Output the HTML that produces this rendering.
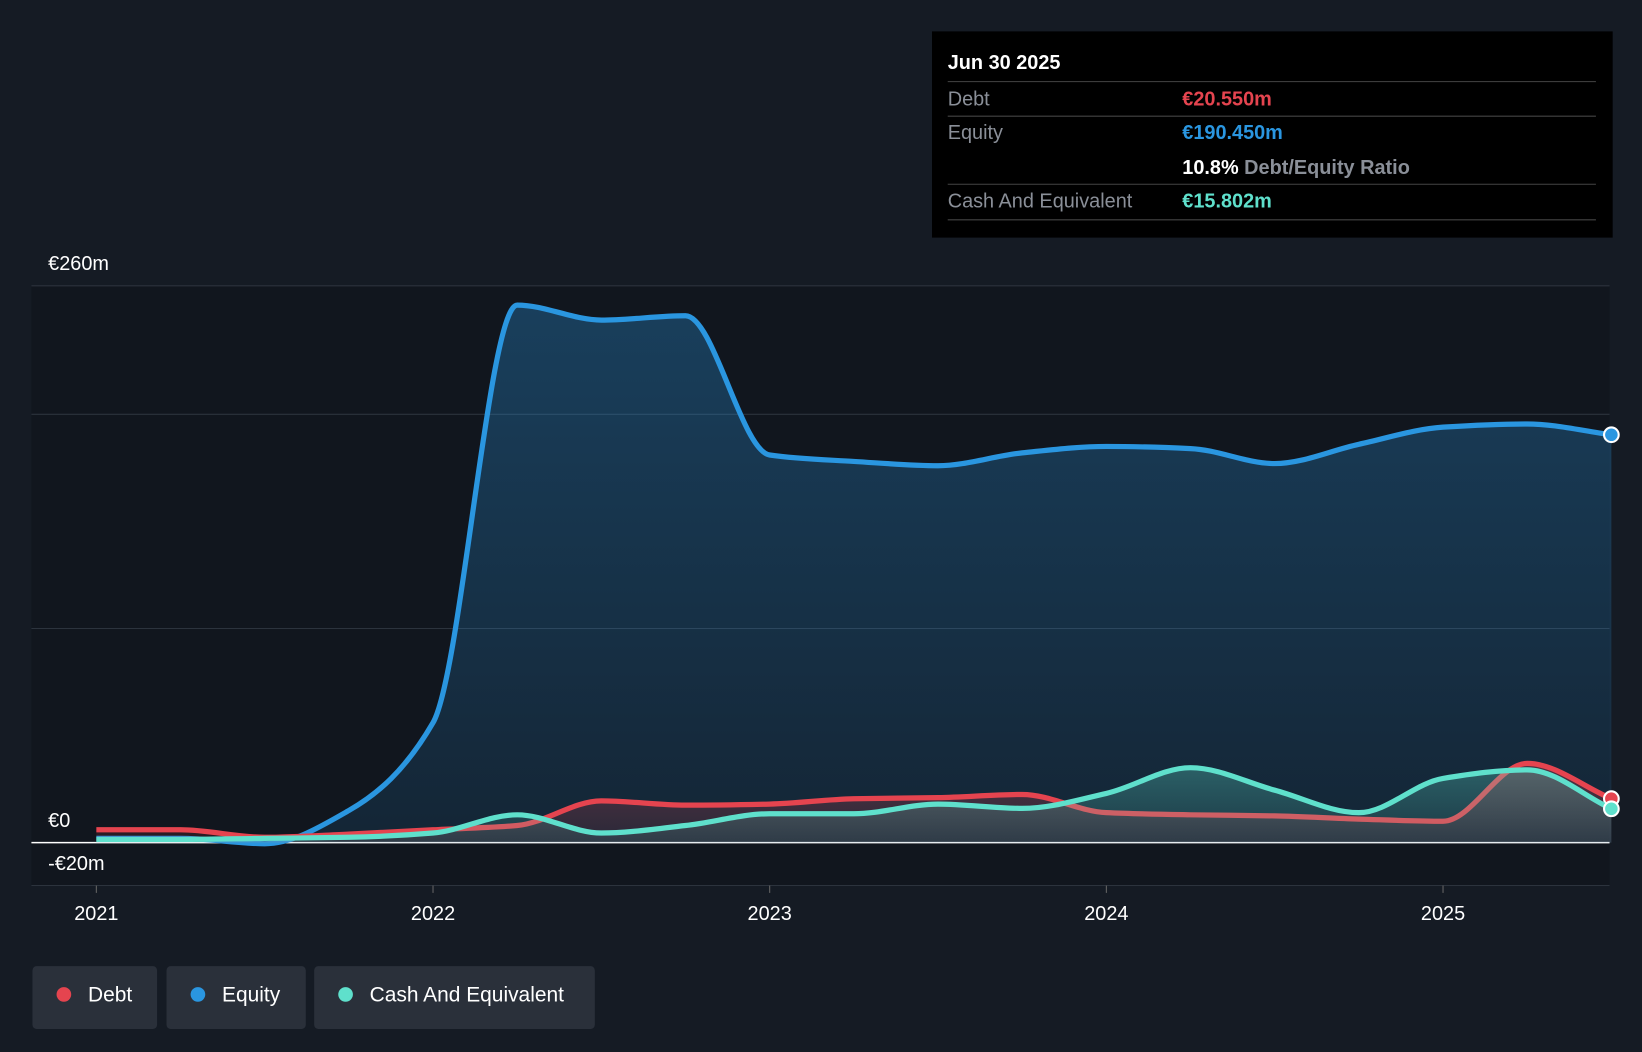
<!DOCTYPE html>
<html><head><meta charset="utf-8"><style>
html,body{margin:0;padding:0;background:#151b24;}
svg{display:block;font-family:"Liberation Sans",Arial,sans-serif;}
</style></head><body>
<svg id="chart" width="1642" height="1052" viewBox="0 0 1568 1005" preserveAspectRatio="none">
<rect x="0" y="0" width="1568" height="1005" fill="#151b24"/>
<rect x="30" y="273" width="1507" height="573" fill="#11161e"/>
<g id="grid"></g>
<g id="series"></g>
<g id="tooltip">
<rect x="890" y="30" width="650" height="197" fill="#000"/>
<text x="905" y="66" fill="#fff" font-size="19" font-weight="bold">Jun 30 2025</text>
<line x1="905" y1="78" x2="1524" y2="78" stroke="#444"/>
<text x="905" y="101" fill="#8a8f98" font-size="19">Debt</text>
<text x="1129" y="101" fill="#e5444f" font-size="19" font-weight="bold">€20.550m</text>
<line x1="905" y1="111" x2="1524" y2="111" stroke="#444"/>
<text x="905" y="133" fill="#8a8f98" font-size="19">Equity</text>
<text x="1129" y="133" fill="#2a96e0" font-size="19" font-weight="bold">€190.450m</text>
<text x="1129" y="166" fill="#fff" font-size="19" font-weight="bold">10.8% <tspan fill="#8a8f98">Debt/Equity Ratio</tspan></text>
<line x1="905" y1="176" x2="1524" y2="176" stroke="#444"/>
<text x="905" y="198" fill="#8a8f98" font-size="19">Cash And Equivalent</text>
<text x="1129" y="198" fill="#5fe0cc" font-size="19" font-weight="bold">€15.802m</text>
<line x1="905" y1="210" x2="1524" y2="210" stroke="#444"/>
</g>
<g>
<g><rect x="31" y="923" width="119" height="60" rx="4" fill="#2a303a"/><circle cx="61" cy="950" r="7" fill="#e5444f"/><text x="84" y="957" fill="#fff" font-size="20">Debt</text></g>
<g><rect x="159" y="923" width="133" height="60" rx="4" fill="#2a303a"/><circle cx="189" cy="950" r="7" fill="#2a96e0"/><text x="212" y="957" fill="#fff" font-size="20">Equity</text></g>
<g><rect x="300" y="923" width="268" height="60" rx="4" fill="#2a303a"/><circle cx="330" cy="950" r="7" fill="#5fe0cc"/><text x="353" y="957" fill="#fff" font-size="20">Cash And Equivalent</text></g>
</g>
</svg>
<script>
const quarters=[2021,2021.25,2021.5,2021.75,2022,2022.25,2022.5,2022.75,2023,2023.25,2023.5,2023.75,2024,2024.25,2024.5,2024.75,2025,2025.25,2025.5];
const equity=[2,2,-0.5,15,56,251,244,246,181,178,176,182,185,184,177,186,194,195.5,190.45];
const debt=[6,6,2.5,4,6,8,19.5,17.5,18,20.5,21,22.5,14,13,12.5,11,10,37,20.55];
const cash=[1.5,1.5,2,2.5,4.5,13,4.5,8,13.5,13.5,18,16,23,35,24.5,14,30,34,15.8];
const yTicks=[-20,0,100,200,260];
const yLabels=["-€20m","€0","","","€260m"];
const xYears=[2021,2022,2023,2024,2025];
const NS="http://www.w3.org/2000/svg";
const X=t=>92+(t-2021)*321.5;
const Y=v=>805-v*2.046;
function el(tag,attrs,parent){const e=document.createElementNS(NS,tag);for(const k in attrs)e.setAttribute(k,attrs[k]);parent.appendChild(e);return e;}
const grid=document.getElementById('grid');
for(let i=0;i<yTicks.length;i++){
  const v=yTicks[i];
  const l=el('line',{x1:30,x2:1537,y1:Y(v),y2:Y(v),stroke:v===0?'#fff':'#2c333d','stroke-width':v===0?1.5:1},grid);
  
  
  if(yLabels[i]){const t=el('text',{x:46,y:Y(v)-15,fill:'#fff','font-size':19},grid);t.textContent=yLabels[i];
  
  }
}
xYears.forEach(yr=>{
  const l=el('line',{x1:X(yr),x2:X(yr),y1:846,y2:853,stroke:'#666'},grid);
  
  
  const t=el('text',{x:X(yr),y:879,fill:'#fff','font-size':19,'text-anchor':'middle'},grid);t.textContent=yr;
  
  
});
function mono(xs,ys){
  const n=xs.length,d=[],m=[];
  for(let i=0;i<n-1;i++)d.push((ys[i+1]-ys[i])/(xs[i+1]-xs[i]));
  m[0]=d[0];m[n-1]=d[n-2];
  for(let i=1;i<n-1;i++){const a=d[i-1],b=d[i];m[i]=(a*b<=0)?0:2/(1/a+1/b);}
  let p=`M${xs[0]},${ys[0]}`;
  for(let i=0;i<n-1;i++){const h=(xs[i+1]-xs[i])/3;
    p+=` C${xs[i]+h},${ys[i]+m[i]*h} ${xs[i+1]-h},${ys[i+1]-m[i+1]*h} ${xs[i+1]},${ys[i+1]}`;}
  return p;
}
const ser=document.getElementById('series');
const defs=el('defs',{},ser);
function grad(id,c,o1,o2){const g=el('linearGradient',{id,x1:0,y1:0,x2:0,y2:1},defs);
  el('stop',{offset:0,'stop-color':c,'stop-opacity':o1},g);el('stop',{offset:1,'stop-color':c,'stop-opacity':o2},g);}
grad('ge','#2a96e0',0.32,0.12);grad('gd','#e5444f',0.3,0.1);grad('gc','#5fe0cc',0.3,0.1);
const xs=quarters.map(X);
function draw(vals,color,gid,name){
  const ys=vals.map(Y);const p=mono(xs,ys);
  const a=el('path',{d:p+` L${xs[xs.length-1]},${Y(0)} L${xs[0]},${Y(0)} Z`,fill:`url(#${gid})`},ser);
  
  
  const l=el('path',{d:p,fill:'none',stroke:color,'stroke-width':5,'stroke-linejoin':'round'},ser);
  
  
  const c=el('circle',{cx:xs[xs.length-1],cy:ys[ys.length-1],r:7,fill:color,stroke:'#fff','stroke-width':2},ser);
  
  
}
draw(equity,'#2a96e0','ge','equity');
draw(debt,'#e5444f','gd','debt');
draw(cash,'#5fe0cc','gc','cash');
</script>
</body></html>
